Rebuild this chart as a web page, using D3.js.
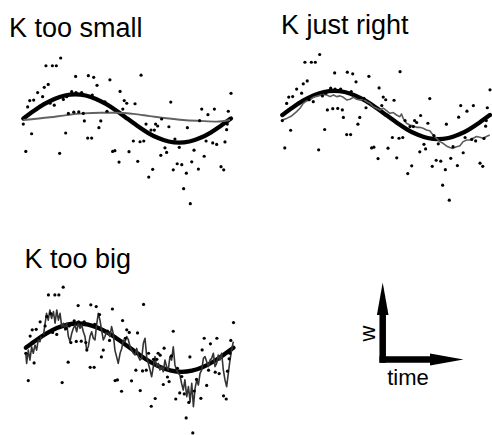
<!DOCTYPE html>
<html><head><meta charset="utf-8">
<script src="https://cdn.jsdelivr.net/npm/d3@7"></script>
<style>html,body{margin:0;padding:0;background:#fff;}svg{display:block;}</style>
</head><body>
<svg id="chart" width="492" height="435"></svg>
<script>
// ---------- data (time t in [0,1], value w) ----------
const titles = ["K too small", "K just right", "K too big"];
const axisLabels = ["w", "time"];

// noisy observations (same in all three panels)
const obsT = [0.180,0.109,0.140,0.159,0.252,0.313,0.339,0.567,0.417,0.120,0.101,0.355,0.069,0.093,0.466,1.000,0.031,0.050,0.021,0.129,0.193,0.209,0.233,0.254,0.281,0.332,0.393,0.486,0.498,0.538,0.479,0.710,0.859,0.920,0.889,0.987,0.217,0.243,0.267,0.289,0.403,0.000,0.040,0.204,0.294,0.373,0.364,0.310,0.329,0.849,0.591,0.637,0.647,0.666,0.615,0.631,0.701,0.790,0.982,0.979,0.012,0.175,0.430,0.441,0.461,0.530,0.562,0.580,0.751,0.730,0.682,0.690,0.662,0.509,0.822,0.880,0.912,0.931,0.971,0.871,0.551,0.741,0.763,0.811,0.623,0.722,0.843,0.952,0.965,0.604,0.785,0.772,0.804,0.080,0.149];
const obsW = [2.50,2.18,2.18,2.18,1.74,1.77,1.70,1.79,1.60,1.41,1.29,1.37,1.07,0.90,1.12,1.04,0.74,0.76,0.48,0.63,0.79,0.90,1.11,1.07,1.07,0.97,0.69,0.74,0.63,0.61,0.39,0.68,0.39,0.39,0.16,0.30,0.21,0.26,0.27,0.21,0.30,-0.23,-0.63,-0.60,-0.10,-0.10,-0.38,-0.81,-0.81,-0.09,-0.23,-0.23,-0.31,-0.02,-0.48,-0.48,-0.34,-0.38,-0.23,-0.46,-1.36,-1.44,-1.36,-1.33,-1.80,-0.93,-0.96,-0.93,-1.19,-0.85,-1.21,-1.40,-1.52,-1.37,-1.31,-0.93,-1.01,-1.07,-0.97,-1.56,-1.77,-1.87,-1.91,-1.79,-2.10,-2.12,-2.09,-1.99,-2.12,-2.42,-2.26,-2.90,-3.52,0.50,0.55];

// true signal (thick black curve)
const trueT = [0,0.05,0.10,0.15,0.20,0.25,0.30,0.35,0.40,0.45,0.50,0.55,0.60,0.65,0.70,0.75,0.80,0.85,0.90,0.95,1.00];
const trueW = [0,0.31,0.59,0.81,0.95,1.00,0.95,0.81,0.59,0.31,0,-0.31,-0.59,-0.81,-0.95,-1.00,-0.95,-0.81,-0.59,-0.31,0];

// estimate, K too small
const smallT = [0,0.128,0.209,0.289,0.369,0.450,0.530,0.609,0.690,0.770,0.851,0.931,0.995];
const smallW = [-0.06,0.05,0.14,0.21,0.24,0.24,0.19,0.10,0.01,-0.06,-0.10,-0.13,-0.06];

// estimate, K just right
const rightT = [0,0.021,0.045,0.069,0.085,0.101,0.117,0.133,0.149,0.173,0.197,0.214,0.23,0.246,0.262,0.278,0.294,0.31,0.326,0.342,0.358,0.374,0.39,0.406,0.422,0.438,0.454,0.47,0.486,0.502,0.518,0.534,0.55,0.566,0.574,0.582,0.598,0.614,0.63,0.646,0.662,0.678,0.694,0.71,0.726,0.742,0.758,0.774,0.79,0.806,0.822,0.838,0.854,0.871,0.887,0.903,0.919,0.935,0.951,0.967,0.983,0.999];
const rightW = [-0.21,-0.14,-0.04,0.14,0.28,0.48,0.58,0.62,0.73,0.79,0.85,0.83,0.76,0.83,0.76,0.79,0.73,0.62,0.65,0.73,0.65,0.62,0.65,0.55,0.48,0.34,0.28,0.21,0.28,0.18,0.07,0.10,0.00,-0.07,0.04,-0.14,-0.34,-0.41,-0.45,-0.51,-0.51,-0.55,-0.62,-0.65,-0.83,-0.96,-1.10,-1.17,-1.28,-1.34,-1.38,-1.31,-1.28,-1.10,-1.03,-1.03,-0.96,-0.89,-0.92,-0.96,-0.89,-0.83];

// estimate, K too big
const bigT = [0.000,0.004,0.012,0.020,0.028,0.036,0.044,0.052,0.060,0.068,0.076,0.084,0.092,0.100,0.108,0.116,0.124,0.133,0.141,0.149,0.157,0.165,0.173,0.181,0.189,0.197,0.205,0.213,0.221,0.229,0.237,0.245,0.253,0.261,0.269,0.277,0.285,0.293,0.301,0.309,0.317,0.325,0.333,0.341,0.349,0.357,0.365,0.373,0.381,0.389,0.397,0.405,0.413,0.421,0.429,0.437,0.445,0.454,0.462,0.470,0.478,0.486,0.494,0.502,0.510,0.518,0.526,0.534,0.542,0.550,0.558,0.566,0.574,0.582,0.590,0.598,0.606,0.614,0.622,0.630,0.638,0.646,0.654,0.662,0.670,0.678,0.686,0.694,0.702,0.710,0.718,0.726,0.734,0.742,0.750,0.758,0.766,0.775,0.783,0.791,0.799,0.807,0.815,0.823,0.831,0.839,0.847,0.855,0.863,0.871,0.879,0.887,0.895,0.903,0.911,0.919,0.927,0.935,0.943,0.951,0.959,0.967,0.975,0.983,0.991,0.999];
const bigW = [-0.23,-0.65,-0.10,-0.51,0.04,-0.23,0.11,-0.10,0.32,0.25,0.52,0.46,0.94,1.42,1.14,1.56,1.21,1.49,1.01,1.56,1.14,1.42,0.87,1.01,0.73,1.01,0.46,0.25,0.59,0.80,0.94,0.66,1.01,0.80,0.94,0.66,0.46,-0.10,0.04,0.46,0.66,0.39,0.32,0.94,1.42,1.14,0.73,0.32,0.46,0.66,0.59,0.46,0.87,0.59,-0.10,-0.37,-0.65,-0.23,-0.03,0.32,0.25,0.46,0.32,0.04,-0.10,-0.23,-0.30,-0.03,-0.37,-0.51,-0.44,0.18,0.39,-0.37,-0.65,-0.92,-1.20,-0.78,-0.37,-0.78,-0.65,-0.92,-0.78,-0.99,-0.51,-0.78,-0.92,-0.37,-0.51,0.04,-0.71,-0.92,-1.06,-1.13,-1.47,-1.75,-1.33,-2.02,-1.61,-2.23,-1.47,-2.44,-1.68,-1.33,-1.54,-1.06,-0.92,-0.44,-0.37,-0.58,-0.78,-0.51,-0.44,-0.23,-0.78,-0.65,-0.30,-0.51,-0.23,-0.92,-1.33,-1.61,-1.06,-0.51,-0.10,0.25];

// ---------- drawing ----------
const svg = d3.select("#chart");
const FONT = "'Liberation Sans', Arial, Helvetica, sans-serif";
const zip = (a, b) => a.slice(0, Math.min(a.length, b.length)).map((t, i) => [t, b[i]]);

const panels = [
  {title: titles[0], tx: 9,    ty: 36.5,  x0: 23.3,  x1: 231,   yc: 118.5, est: zip(smallT, smallW), curve: d3.curveMonotoneX, estColor: "#626262", estWidth: 1.9},
  {title: titles[1], tx: 281,  ty: 33.5,  x0: 282.3, x1: 490,   yc: 115,   est: zip(rightT, rightW), curve: d3.curveLinear,    estColor: "#5c5c5c", estWidth: 1.6},
  {title: titles[2], tx: 24.5, ty: 268.3, x0: 25.8,  x1: 233.5, yc: 347.7, est: zip(bigT, bigW),     curve: d3.curveLinear,    estColor: "#333",    estWidth: 1.6}
];
const AMP = 24.2;
const obs = zip(obsT, obsW);
const truth = zip(trueT, trueW);

panels.forEach(p => {
  const x = d3.scaleLinear().domain([0, 1]).range([p.x0, p.x1]);
  const y = d3.scaleLinear().domain([-1, 1]).range([p.yc + AMP, p.yc - AMP]);
  const g = svg.append("g");
  g.append("text").attr("x", p.tx).attr("y", p.ty)
    .attr("font-family", FONT).attr("font-size", 27).attr("fill", "#000").text(p.title);
  g.append("path").datum(truth)
    .attr("d", d3.line().x(d => x(d[0])).y(d => y(d[1])).curve(d3.curveNatural))
    .attr("fill", "none").attr("stroke", "#000").attr("stroke-width", 4.3).attr("stroke-linecap", "round");
  g.append("path").datum(p.est)
    .attr("d", d3.line().x(d => x(d[0])).y(d => y(d[1])).curve(p.curve))
    .attr("fill", "none").attr("stroke", p.estColor).attr("stroke-width", p.estWidth).attr("stroke-linejoin", "round");
  g.selectAll("circle").data(obs).join("circle")
    .attr("cx", d => x(d[0])).attr("cy", d => y(d[1])).attr("r", 1.6).attr("fill", "#000");
});

// axis key (w / time arrows)
const key = svg.append("g");
const vx = 382.7, hy = 359.5, th = 6.5;
key.append("rect").attr("x", vx - th / 2).attr("y", 305).attr("width", th).attr("height", hy + th / 2 - 305).attr("fill", "#000");
key.append("path").attr("d", `M${vx},282.5 L${vx + 5.8},315 L${vx - 5.8},315 Z`).attr("fill", "#000");
key.append("rect").attr("x", vx - th / 2).attr("y", hy - th / 2).attr("width", 435 - (vx - th / 2)).attr("height", th).attr("fill", "#000");
key.append("path").attr("d", `M463.5,${hy} L430,${hy - 6} L430,${hy + 6} Z`).attr("fill", "#000");
key.append("text").attr("transform", `translate(374.5,333.5) rotate(-90)`)
  .attr("text-anchor", "middle").attr("font-family", FONT).attr("font-size", 22).text(axisLabels[0]);
key.append("text").attr("x", 408).attr("y", 385).attr("text-anchor", "middle")
  .attr("font-family", FONT).attr("font-size", 22).text(axisLabels[1]);
</script>
</body></html>
